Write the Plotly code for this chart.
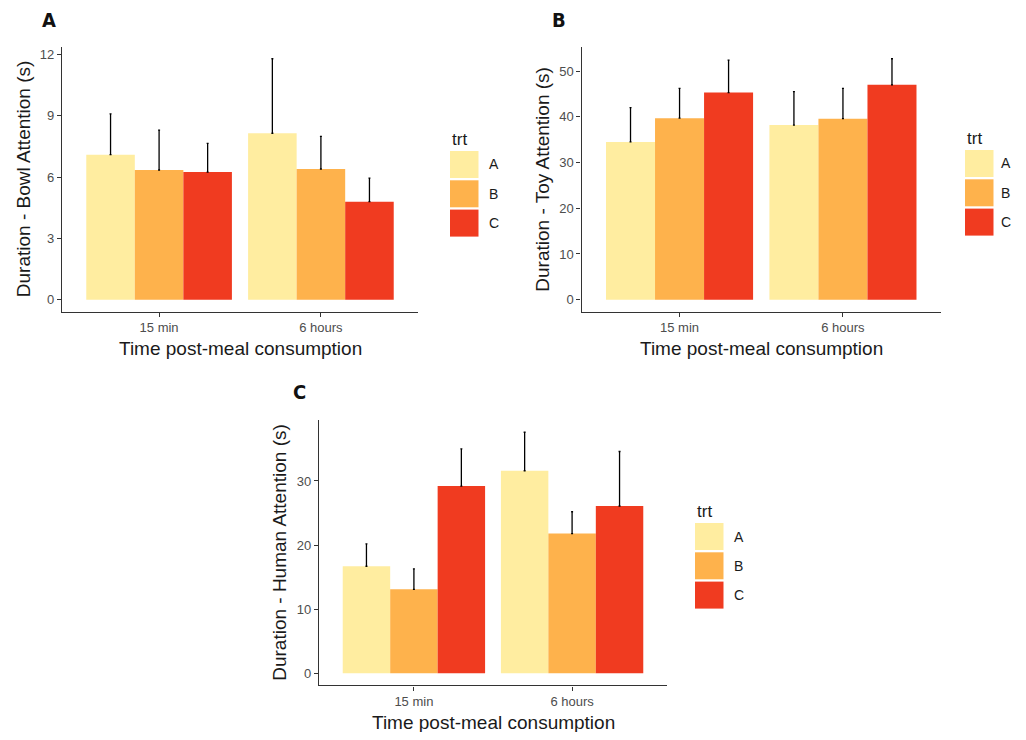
import plotly.graph_objects as go

# ---- data ----
times = ["15 min", "6 hours"]
trts = ["A", "B", "C"]
colors = {"A": "#FFEDA0", "B": "#FEB24C", "C": "#F03B20"}

bowl_mean = {"A": [7.1, 8.15], "B": [6.35, 6.4], "C": [6.25, 4.8]}
bowl_se = {"A": [2.0, 3.65], "B": [1.95, 1.6], "C": [1.4, 1.15]}

toy_mean = {"A": [34.5, 38.2], "B": [39.7, 39.6], "C": [45.3, 47.0]}
toy_se = {"A": [7.5, 7.3], "B": [6.5, 6.6], "C": [7.1, 5.7]}

human_mean = {"A": [16.7, 31.6], "B": [13.1, 21.8], "C": [29.2, 26.1]}
human_se = {"A": [3.5, 6.0], "B": [3.2, 3.4], "C": [5.8, 8.5]}

ytitles = ["Duration - Bowl Attention (s)", "Duration - Toy Attention (s)",
           "Duration - Human Attention (s)"]
xtitle = "Time post-meal consumption"
panel_letters = ["A", "B", "C"]
yticks = [[0, 3, 6, 9, 12], [0, 10, 20, 30, 40, 50], [0, 10, 20, 30]]

# page body has an 8px margin; lay out in screenshot pixels and compensate
OFF = 8
W, H = 1026 - 2 * OFF, 740 - 2 * OFF
FONT = "Liberation Sans, Arial, sans-serif"

def px_x(v):
    return (v - OFF) / W

def px_y(v):
    return 1 - (v - OFF) / H

# panel layout in screenshot pixels: (left, right, top, bottom)
panels = [(62, 418, 46.7, 311.7), (581.5, 941, 46.7, 311.7), (319, 667, 420.2, 685.4)]
datasets = [(bowl_mean, bowl_se), (toy_mean, toy_se), (human_mean, human_se)]
legend_pos = [(450, 151), (965, 150), (695, 523)]  # left, top of first key
label_gap = [38, 35, 38]
letter_pos = [(49, 20), (559, 20), (299, 392)]

fig = go.Figure()
annotations = []
shapes = []

for i, ((mean, se), (l, r, t, b)) in enumerate(zip(datasets, panels)):
    xa = "x" if i == 0 else f"x{i+1}"
    ya = "y" if i == 0 else f"y{i+1}"
    top = 0
    for trt in trts:
        fig.add_trace(go.Bar(
            x=times, y=mean[trt], name=trt, xaxis=xa, yaxis=ya,
            marker=dict(color=colors[trt], line=dict(width=0)),
            error_y=dict(type="data", array=se[trt], arrayminus=[0] * len(times),
                         symmetric=False, color="black", thickness=1.3, width=1),
            showlegend=False, offsetgroup=trt,
        ))
        top = max(top, max(m + s for m, s in zip(mean[trt], se[trt])))
    yr = [-0.05 * top, 1.05 * top]
    axkey = "" if i == 0 else str(i + 1)
    fig.layout["xaxis" + axkey] = dict(
        domain=[px_x(l), px_x(r)], anchor=ya, range=[-0.6, 1.6],
        showline=True, linecolor="#333333", linewidth=1.2,
        ticks="outside", ticklen=4, tickcolor="#333333",
        tickfont=dict(family=FONT, size=13, color="#4D4D4D"),
        showgrid=False, zeroline=False, fixedrange=True, type="category",
    )
    fig.layout["yaxis" + axkey] = dict(
        domain=[px_y(b), px_y(t)], anchor=xa, range=yr,
        showline=True, linecolor="#333333", linewidth=1.2,
        ticks="outside", ticklen=4, tickcolor="#333333",
        tickvals=yticks[i],
        tickfont=dict(family=FONT, size=13, color="#4D4D4D"),
        showgrid=False, zeroline=False, fixedrange=True,
    )
    # axis titles
    annotations.append(dict(
        text=xtitle, xref="paper", yref="paper",
        x=px_x((l + r) / 2), y=px_y(b + 37), showarrow=False,
        font=dict(family=FONT, size=19, color="#1A1A1A"),
        xanchor="center", yanchor="middle"))
    annotations.append(dict(
        text=ytitles[i], xref="paper", yref="paper",
        x=px_x(l - 39), y=px_y((t + b) / 2), showarrow=False, textangle=-90,
        font=dict(family=FONT, size=19, color="#1A1A1A"),
        xanchor="center", yanchor="middle"))
    # panel letter
    lx, ly = letter_pos[i]
    annotations.append(dict(
        text="<b>" + panel_letters[i] + "</b>", xref="paper", yref="paper",
        x=px_x(lx), y=px_y(ly), showarrow=False,
        font=dict(family="DejaVu Sans Condensed, Liberation Sans Narrow, DejaVu Sans",
                  size=20, color="#111111"),
        xanchor="center", yanchor="middle"))
    # manual legend
    gx, gy = legend_pos[i]
    annotations.append(dict(
        text="trt", xref="paper", yref="paper", x=px_x(gx), y=px_y(gy - 12),
        showarrow=False, font=dict(family=FONT, size=17, color="#1A1A1A"),
        xanchor="left", yanchor="middle"))
    for k, trt in enumerate(trts):
        y0 = gy + k * 29.3
        shapes.append(dict(type="rect", xref="paper", yref="paper",
                           x0=px_x(gx), x1=px_x(gx + 28.5), y0=px_y(y0), y1=px_y(y0 + 27),
                           fillcolor=colors[trt], line=dict(width=0)))
        annotations.append(dict(
            text=trt, xref="paper", yref="paper", x=px_x(gx + label_gap[i]),
            y=px_y(y0 + 13.5), showarrow=False,
            font=dict(family=FONT, size=14, color="#1A1A1A"),
            xanchor="left", yanchor="middle", borderpad=0))

fig.update_layout(
    width=W, height=H, margin=dict(l=0, r=0, t=0, b=0),
    paper_bgcolor="white", plot_bgcolor="white",
    barmode="group", bargap=0.1, bargroupgap=0,
    annotations=annotations, shapes=shapes,
    font=dict(family=FONT),
)

fig.write_html("out.html", config={"displayModeBar": False})
